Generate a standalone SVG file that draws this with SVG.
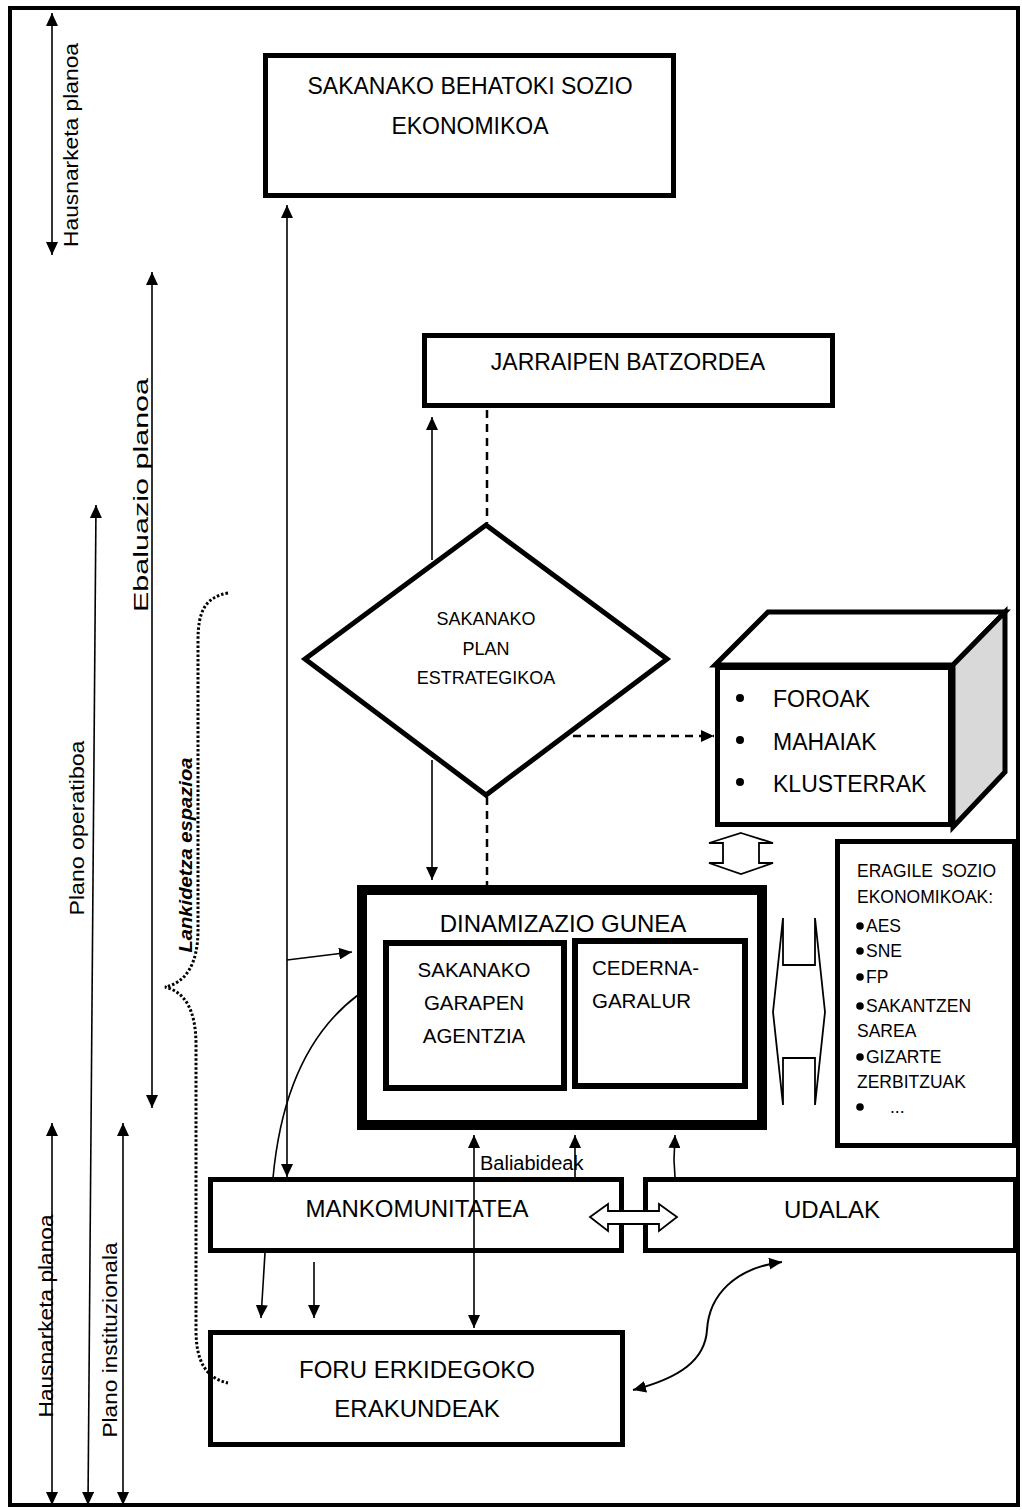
<svg xmlns="http://www.w3.org/2000/svg" width="1022" height="1510" viewBox="0 0 1022 1510">
<style>
.box{fill:#fff;stroke:#000;stroke-width:5}
.t{font-family:"Liberation Sans",Arial,sans-serif;fill:#000}
.ln{stroke:#000;stroke-width:1.6;fill:none}
.dash{stroke:#000;stroke-width:2.5;stroke-dasharray:8 6;fill:none}
.hollow{fill:#fff;stroke:#000;stroke-width:1.8;stroke-linejoin:miter}
</style>
<defs>
<marker id="ah" markerUnits="userSpaceOnUse" markerWidth="13" markerHeight="12" refX="13" refY="6" orient="auto-start-reverse">
<path d="M0,0 L13,6 L0,12 z" fill="#000"/>
</marker>
</defs>
<rect x="0" y="0" width="1022" height="1510" fill="#fff"/>
<rect x="10" y="8" width="1008" height="1497" fill="none" stroke="#000" stroke-width="4"/>

<g id="behatoki">
<rect class="box" x="265.5" y="55.5" width="408" height="140"/>
<text class="t" x="470" y="94" font-size="23" text-anchor="middle">SAKANAKO BEHATOKI SOZIO</text>
<text class="t" x="470" y="134" font-size="23" text-anchor="middle">EKONOMIKOA</text>
</g>
<g id="jarraipen">
<rect class="box" x="424.5" y="335.5" width="408" height="70"/>
<text class="t" x="628" y="370" font-size="23" text-anchor="middle">JARRAIPEN BATZORDEA</text>
</g>
<g id="plan">
<polygon class="box" points="486,525 667,659 486,795 305,659"/>
<text class="t" x="486" y="625" font-size="18" text-anchor="middle">SAKANAKO</text>
<text class="t" x="486" y="655" font-size="18" text-anchor="middle">PLAN</text>
<text class="t" x="486" y="684" font-size="18" text-anchor="middle">ESTRATEGIKOA</text>
</g>
<g id="foroak">
<polygon class="box" points="715,665 768,612 1005,612 953,665"/>
<polygon class="box" points="953,665 1005,612 1005,772 953,827" style="fill:#d9d9d9"/>
<rect class="box" x="717.5" y="667.5" width="233" height="157"/>
<circle cx="740" cy="698" r="4"/>
<circle cx="740" cy="740" r="4"/>
<circle cx="740" cy="782" r="4"/>
<text class="t" x="773" y="707" font-size="23">FOROAK</text>
<text class="t" x="773" y="750" font-size="23">MAHAIAK</text>
<text class="t" x="773" y="792" font-size="23">KLUSTERRAK</text>
</g>
<g id="eragile">
<rect class="box" x="837.5" y="841.5" width="177" height="304"/>
<text class="t" x="857" y="877" font-size="17.5">ERAGILE</text>
<text class="t" x="996" y="877" font-size="17.5" text-anchor="end">SOZIO</text>
<text class="t" x="857" y="903" font-size="17.5">EKONOMIKOAK:</text>
<circle cx="860" cy="926" r="3.8"/>
<text class="t" x="866" y="932" font-size="17.5">AES</text>
<circle cx="860" cy="951" r="3.8"/>
<text class="t" x="866" y="957" font-size="17.5">SNE</text>
<circle cx="860" cy="977" r="3.8"/>
<text class="t" x="866" y="983" font-size="17.5">FP</text>
<circle cx="860" cy="1006" r="3.8"/>
<text class="t" x="866" y="1012" font-size="17.5">SAKANTZEN</text>
<text class="t" x="857" y="1037" font-size="17.5">SAREA</text>
<circle cx="860" cy="1057" r="3.8"/>
<text class="t" x="866" y="1063" font-size="17.5">GIZARTE</text>
<text class="t" x="857" y="1088" font-size="17.5">ZERBITZUAK</text>
<circle cx="860" cy="1107" r="3.8"/>
<text class="t" x="890" y="1113" font-size="17.5">...</text>
</g>
<g id="dinamizazio">
<rect class="box" x="362" y="890" width="400" height="235" style="stroke-width:10"/>
<text class="t" x="563" y="932" font-size="24" text-anchor="middle">DINAMIZAZIO GUNEA</text>
</g>
<g id="garapen">
<rect class="box" x="386" y="943" width="178" height="145" style="stroke-width:6"/>
<text class="t" x="474" y="977" font-size="20.5" text-anchor="middle">SAKANAKO</text>
<text class="t" x="474" y="1010" font-size="20.5" text-anchor="middle">GARAPEN</text>
<text class="t" x="474" y="1043" font-size="20.5" text-anchor="middle">AGENTZIA</text>
</g>
<g id="cederna">
<rect class="box" x="575" y="941" width="170" height="145" style="stroke-width:6"/>
<text class="t" x="592" y="975" font-size="20.5">CEDERNA-</text>
<text class="t" x="592" y="1008" font-size="20.5">GARALUR</text>
</g>
<g id="mankomunitatea">
<rect class="box" x="210.5" y="1179.5" width="411" height="71"/>
<text class="t" x="417" y="1217" font-size="24" text-anchor="middle">MANKOMUNITATEA</text>
</g>
<g id="udalak">
<rect class="box" x="645.5" y="1179.5" width="370" height="71"/>
<text class="t" x="832" y="1218" font-size="24" text-anchor="middle">UDALAK</text>
</g>
<g id="foru">
<rect class="box" x="210.5" y="1332.5" width="412" height="112"/>
<text class="t" x="417" y="1378" font-size="24" text-anchor="middle">FORU ERKIDEGOKO</text>
<text class="t" x="417" y="1417" font-size="24" text-anchor="middle">ERAKUNDEAK</text>
</g>

<g id="planes">
<line class="ln" x1="52" y1="13" x2="52" y2="255" marker-start="url(#ah)" marker-end="url(#ah)"/>
<text class="t" transform="translate(78,145) rotate(-90)" font-size="21" text-anchor="middle" textLength="204" lengthAdjust="spacingAndGlyphs">Hausnarketa planoa</text>
<line class="ln" x1="152" y1="272" x2="152" y2="1108" marker-start="url(#ah)" marker-end="url(#ah)"/>
<text class="t" transform="translate(148,495) rotate(-90)" font-size="21" text-anchor="middle" textLength="234" lengthAdjust="spacingAndGlyphs">Ebaluazio planoa</text>
<line class="ln" x1="96" y1="505" x2="88" y2="1505" marker-start="url(#ah)" marker-end="url(#ah)"/>
<text class="t" transform="translate(84,828) rotate(-90)" font-size="21" text-anchor="middle" textLength="175" lengthAdjust="spacingAndGlyphs">Plano operatiboa</text>
<line class="ln" x1="52" y1="1123" x2="52" y2="1505" marker-start="url(#ah)" marker-end="url(#ah)"/>
<text class="t" transform="translate(53,1316) rotate(-90)" font-size="21" text-anchor="middle" textLength="203" lengthAdjust="spacingAndGlyphs">Hausnarketa planoa</text>
<line class="ln" x1="123" y1="1123" x2="123" y2="1505" marker-start="url(#ah)" marker-end="url(#ah)"/>
<text class="t" transform="translate(117,1340) rotate(-90)" font-size="21" text-anchor="middle" textLength="195" lengthAdjust="spacingAndGlyphs">Plano instituzionala</text>
<path d="M228,593 C205,597 198,612 198,640 L198,930 C198,965 185,983 165,987 C185,992 196,1010 196,1045 L196,1330 C196,1360 205,1378 228,1383" fill="none" stroke="#000" stroke-width="3" stroke-dasharray="2.5 2"/>
<text class="t" transform="translate(192,855) rotate(-90)" font-size="18" font-weight="bold" font-style="italic" text-anchor="middle" textLength="195" lengthAdjust="spacingAndGlyphs">Lankidetza espazioa</text>
</g>

<g id="connectors">
<line class="ln" x1="287" y1="205" x2="287" y2="1177" marker-start="url(#ah)" marker-end="url(#ah)"/>
<line class="ln" x1="287" y1="960" x2="352" y2="952" marker-end="url(#ah)"/>
<path class="ln" d="M358,995 C318,1025 282,1080 273,1178"/>
<line class="ln" x1="432" y1="417" x2="432" y2="560" marker-start="url(#ah)"/>
<line class="ln" x1="432" y1="760" x2="432" y2="880" marker-end="url(#ah)"/>
<line class="dash" x1="487" y1="410" x2="487" y2="523"/>
<line class="dash" x1="487" y1="797" x2="487" y2="885"/>
<line class="dash" x1="573" y1="736" x2="714" y2="736" marker-end="url(#ah)"/>
<line class="ln" x1="474" y1="1135" x2="474" y2="1328" marker-start="url(#ah)" marker-end="url(#ah)"/>
<line class="ln" x1="575" y1="1177" x2="575" y2="1135" marker-end="url(#ah)"/>
<text class="t" x="480" y="1170" font-size="20">Baliabideak</text>
<path class="ln" d="M675,1177 L674,1160 L675,1135" marker-end="url(#ah)"/>
<line class="ln" x1="265" y1="1253" x2="261" y2="1318" marker-end="url(#ah)"/>
<line class="ln" x1="314" y1="1262" x2="314" y2="1318" marker-end="url(#ah)"/>
<path class="ln" d="M633,1390 C680,1378 705,1360 707,1330 C709,1295 735,1268 782,1262" style="stroke-width:2" marker-start="url(#ah)" marker-end="url(#ah)"/>
<polygon class="hollow" points="741,833 773,843 759,843 759,863 773,863 741,874 709,863 723,863 723,843 709,843"/>
<polygon class="hollow" points="773,1012 783,918 783,965 815,965 815,918 825,1012 815,1105 815,1058 783,1058 783,1105"/>
<polygon class="hollow" points="590,1217 608,1204 608,1211 659,1211 659,1204 677,1217 659,1231 659,1224 608,1224 608,1231"/>
</g>
</svg>
